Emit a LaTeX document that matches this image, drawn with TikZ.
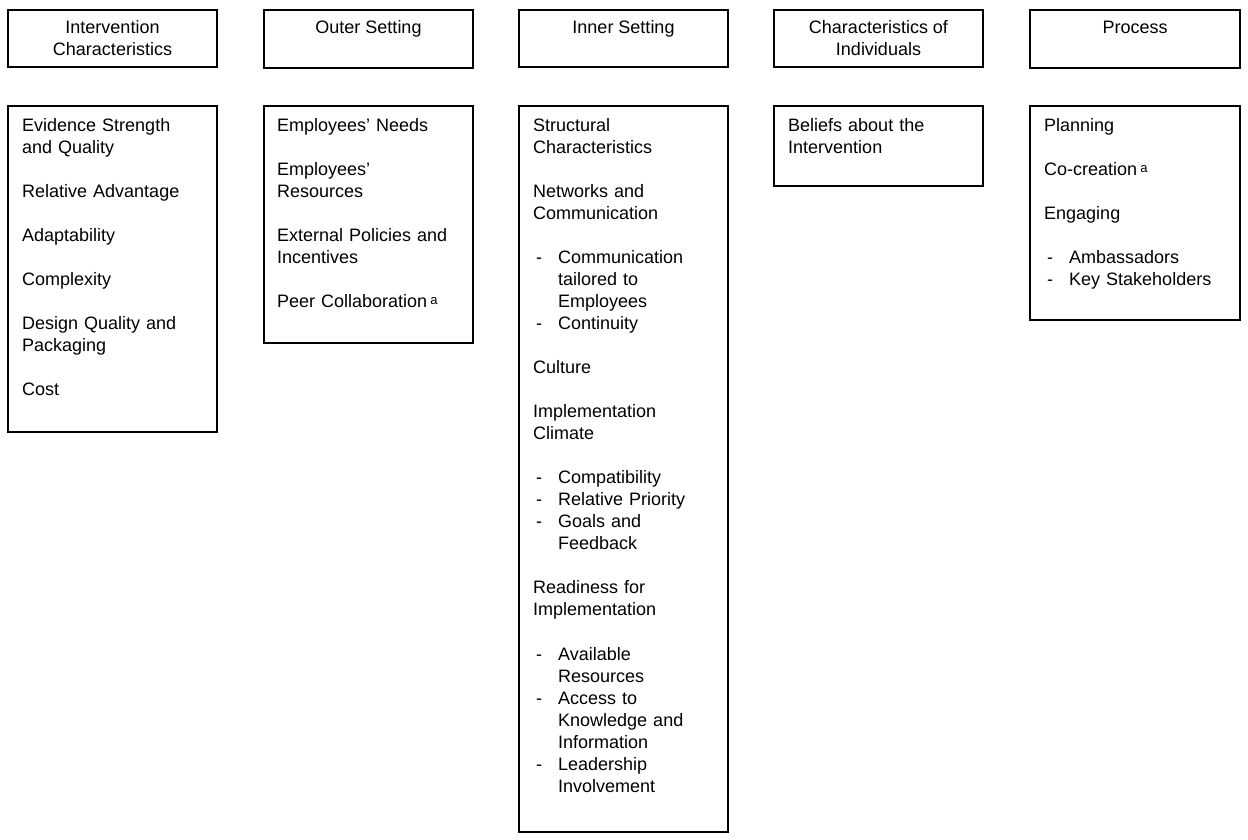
\documentclass[tikz,border=0pt]{standalone}
\usepackage{fontspec}
\setmainfont{Liberation Sans}
\newcommand\di{\makebox[25pt][l]{\hspace{3pt}-}}
\newcommand\ind{\hspace*{25pt}}
\newcommand\supa{\hspace{3pt}\raisebox{3pt}{\fontsize{13}{13}\selectfont a}}
\begin{document}
\begin{tikzpicture}[x=1pt,y=-1pt,
  box/.style={draw=black,line width=1.6pt},
  head/.style={anchor=north,inner sep=0pt,align=center,font=\fontsize{18}{22}\selectfont},
  body/.style={anchor=north west,inner sep=0pt,align=left,text width=205pt,font=\fontsize{18}{22}\selectfont}]
\useasboundingbox (0,0) rectangle (1248,840);
\fill[white] (0,0) rectangle (1248,840);
% header boxes
\draw[box] (8,10) rectangle (217,67);
\draw[box] (264,10) rectangle (473,68);
\draw[box] (519,10) rectangle (728,67);
\draw[box] (774,10) rectangle (983,67);
\draw[box] (1030,10) rectangle (1240,68);
% content boxes
\draw[box] (8,106) rectangle (217,432);
\draw[box] (264,106) rectangle (473,343);
\draw[box] (519,106) rectangle (728,832);
\draw[box] (774,106) rectangle (983,186);
\draw[box] (1030,106) rectangle (1240,320);
% headers
\node[head] (h1) at (112.5,18.1) {\strut Intervention\\Characteristics};
\node[head] (h2) at (368.5,18.1) {\strut Outer Setting};
\node[head] (h3) at (623.5,18.1) {\strut Inner Setting};
\node[head] (h4) at (878.5,18.1) {\strut Characteristics of\\Individuals};
\node[head] (h5) at (1135,18.1) {\strut Process};
% bodies
\node[body] (b1) at (22,116.1) {\strut Evidence Strength\\and Quality\\[22pt]Relative Advantage\\[22pt]Adaptability\\[22pt]Complexity\\[22pt]Design Quality and\\Packaging\\[22pt]Cost};
\node[body] (b2) at (277,116.1) {\strut Employees’ Needs\\[22pt]Employees’\\Resources\\[22pt]External Policies and\\Incentives\\[22pt]Peer Collaboration\supa};
\node[body] (b3) at (533,116.1) {\strut Structural\\Characteristics\\[22pt]Networks and\\Communication\\[22pt]\di Communication\\\ind tailored to\\\ind Employees\\\di Continuity\\[22pt]Culture\\[22pt]Implementation\\Climate\\[22pt]\di Compatibility\\\di Relative Priority\\\di Goals and\\\ind Feedback\\[22pt]Readiness for\\Implementation\\[23pt]\di Available\\\ind Resources\\\di Access to\\\ind Knowledge and\\\ind Information\\\di Leadership\\\ind Involvement};
\node[body] (b4) at (788,116.1) {\strut Beliefs about the\\Intervention};
\node[body] (b5) at (1044,116.1) {\strut Planning\\[22pt]Co-creation\supa\\[22pt]Engaging\\[22pt]\di Ambassadors\\\di Key Stakeholders};
\end{tikzpicture}
\end{document}
